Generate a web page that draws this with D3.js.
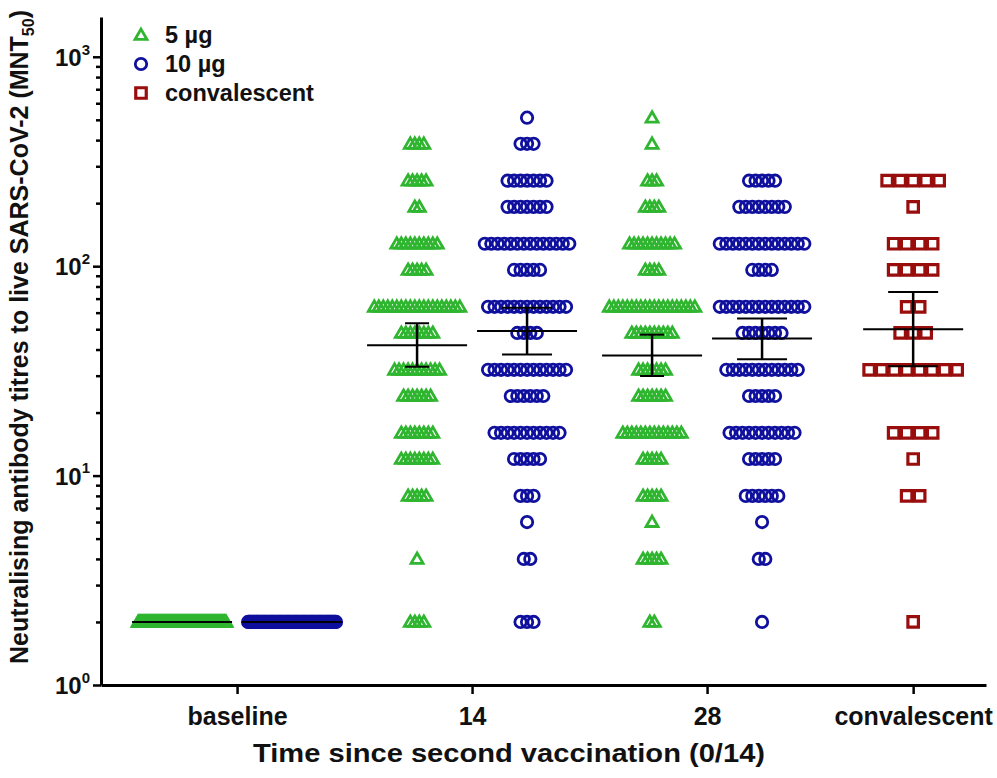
<!DOCTYPE html>
<html>
<head>
<meta charset="utf-8">
<script src="https://cdn.jsdelivr.net/npm/d3@7"></script>
<style>
  body { margin: 0; background: #fff; }
  text { font-family: "Liberation Sans", Arial, sans-serif; font-weight: bold; fill: #111; }
</style>
</head>
<body>
<svg id="chart" width="997" height="778"></svg>
<script>
// titre levels (MNT50) and number of participants at each level
const titres = [2, 4, 6, 8, 12, 16, 24, 32, 48, 64, 96, 128, 192, 256, 384, 512];
const base5  = [100, 0, 0, 0, 0, 0, 0, 0, 0, 0, 0, 0, 0, 0, 0, 0];
const base10 = [100, 0, 0, 0, 0, 0, 0, 0, 0, 0, 0, 0, 0, 0, 0, 0];
const d14_5  = [4, 1, 0, 5, 8, 8, 7, 11, 8, 20, 5, 10, 2, 5, 4, 0];
const d14_10 = [3, 2, 1, 3, 5, 11, 6, 13, 4, 13, 5, 14, 7, 7, 3, 1];
const d28_5  = [2, 5, 1, 5, 5, 14, 7, 7, 10, 20, 4, 11, 4, 3, 1, 1];
const d28_10 = [1, 2, 1, 6, 5, 11, 5, 12, 7, 14, 4, 14, 8, 5, 0, 0];
const conv   = [1, 0, 0, 2, 1, 4, 0, 8, 3, 2, 4, 4, 1, 5, 0, 0];

// geometric mean and 95% CI per column
const gmt   = [2, 2, 41.9, 49.0, 37.5, 45.1, 50.0];
const ciLow = [2, 2, 33.1, 37.9, 29.9, 35.9, 33.3];
const ciHigh= [2, 2, 53.4, 63.4, 47.1, 56.2, 75.3];

const categories = ["baseline", "14", "28", "convalescent"];
const catPos = [0, 1, 2, 2.877];
const seriesNames = ["5 µg", "10 µg", "convalescent"];

const columns = [
  { counts: base5,  cat: 0, off: -0.234, s: 0 },
  { counts: base10, cat: 0, off: 0.234,  s: 1 },
  { counts: d14_5,  cat: 1, off: -0.234, s: 0 },
  { counts: d14_10, cat: 1, off: 0.234,  s: 1 },
  { counts: d28_5,  cat: 2, off: -0.234, s: 0 },
  { counts: d28_10, cat: 2, off: 0.234,  s: 1 },
  { counts: conv,   cat: 3, off: 0,      s: 2 }
];

const colors = ["#2fb52f", "#10109e", "#990d0d"];
const spacing = [4.5, 6.5, 13];   // px between neighbouring points in a row
const capW = [24, 50, 50];
const maxSpan = 88;

const svg = d3.select("#chart");

const x = d3.scaleLinear().domain([-0.579, 3.187]).range([101, 986]);
const y = d3.scaleLog().domain([1, Math.pow(10, 3.19)]).range([685, 17]);

// y axis
const yAxis = svg.append("g").attr("transform", "translate(101,0)")
  .call(d3.axisLeft(y).tickValues([1, 10, 100, 1000]).tickSize(8).tickSizeOuter(0)
    .tickFormat(() => ""));
yAxis.select(".domain").attr("stroke-width", 3);
yAxis.selectAll(".tick line").attr("stroke-width", 2.5);
yAxis.selectAll(".tick").each(function(d, i) {
  const t = d3.select(this).select("text").text(null)
    .attr("font-size", 24).attr("dy", "0.36em").attr("x", -11);
  t.append("tspan").text("10");
  t.append("tspan").text(i).attr("font-size", 15).attr("dy", "-0.75em");
});

const minors = [];
[1, 10, 100].forEach(dec => { for (let k = 2; k <= 9; k++) minors.push(dec * k); });
const yMinor = svg.append("g").attr("transform", "translate(101,0)")
  .call(d3.axisLeft(y).tickValues(minors).tickSize(5).tickSizeOuter(0).tickFormat(""));
yMinor.select(".domain").remove();
yMinor.selectAll(".tick line").attr("stroke-width", 2.5);

// x axis
const xAxis = svg.append("g").attr("transform", "translate(0,685)")
  .call(d3.axisBottom(x).tickValues(catPos).tickSize(9).tickSizeOuter(0)
    .tickFormat((d, i) => categories[i]));
xAxis.select(".domain").attr("stroke-width", 3);
xAxis.selectAll(".tick line").attr("stroke-width", 2.5);
xAxis.selectAll(".tick text").attr("font-size", 25).attr("y", 40).attr("dy", null);

// axis titles
svg.append("text").attr("x", 509).attr("y", 762).attr("text-anchor", "middle")
  .attr("font-size", 25.5).attr("textLength", 512).attr("lengthAdjust", "spacingAndGlyphs")
  .text("Time since second vaccination (0/14)");
const yt = svg.append("text").attr("transform", "translate(28,337) rotate(-90)")
  .attr("text-anchor", "middle").attr("font-size", 25);
yt.append("tspan").text("Neutralising antibody titres to live SARS-CoV-2 (MNT");
yt.append("tspan").text("50").attr("font-size", 16).attr("dy", 6);
yt.append("tspan").text(")").attr("dy", -6);

// markers
const symbolFor = s => s === 0 ? d3.symbol(d3.symbolTriangle, 62)()
  : s === 1 ? d3.symbol(d3.symbolCircle, Math.PI * 5.7 * 5.7)()
  : d3.symbol(d3.symbolSquare, 10.5 * 10.5)();

const points = [];
columns.forEach(col => {
  const cx = x(catPos[col.cat] + col.off);
  col.counts.forEach((n, j) => {
    if (!n) return;
    const step = n > 1 ? Math.min(spacing[col.s], maxSpan / (n - 1)) : 0;
    for (let i = 0; i < n; i++) {
      points.push({ s: col.s, px: cx + (i - (n - 1) / 2) * step, v: titres[j] });
    }
  });
});

svg.append("g").selectAll("path").data(points).enter().append("path")
  .attr("d", d => symbolFor(d.s))
  .attr("transform", d => `translate(${d.px},${y(d.v) + (d.s === 0 ? 1 : 0)})`)
  .attr("fill", "none")
  .attr("stroke", d => colors[d.s])
  .attr("stroke-width", d => d.s === 2 ? 3.2 : 2.8);

// mean lines and CI bars
const bars = svg.append("g").attr("stroke", "#000").attr("stroke-width", 2);
columns.forEach((col, i) => {
  const cx = x(catPos[col.cat] + col.off);
  bars.append("line").attr("x1", cx - 50).attr("x2", cx + 50)
    .attr("y1", y(gmt[i])).attr("y2", y(gmt[i]));
  if (ciHigh[i] > ciLow[i]) {
    bars.append("line").attr("x1", cx).attr("x2", cx)
      .attr("y1", y(ciLow[i])).attr("y2", y(ciHigh[i])).attr("stroke-width", 2.5);
    [ciLow[i], ciHigh[i]].forEach(v => {
      bars.append("line").attr("x1", cx - capW[col.s] / 2).attr("x2", cx + capW[col.s] / 2)
        .attr("y1", y(v)).attr("y2", y(v));
    });
  }
});

// legend
const legend = svg.append("g").attr("transform", "translate(141,35)");
seriesNames.forEach((name, i) => {
  const g = legend.append("g").attr("transform", `translate(0,${i * 29})`);
  g.append("path").attr("d", symbolFor(i))
    .attr("transform", i === 0 ? "translate(0,1)" : null)
    .attr("fill", "none").attr("stroke", colors[i]).attr("stroke-width", i === 2 ? 3.2 : 2.8);
  g.append("text").attr("x", 24).attr("dy", "0.36em").attr("font-size", 23.5).text(name);
});
</script>
</body>
</html>
